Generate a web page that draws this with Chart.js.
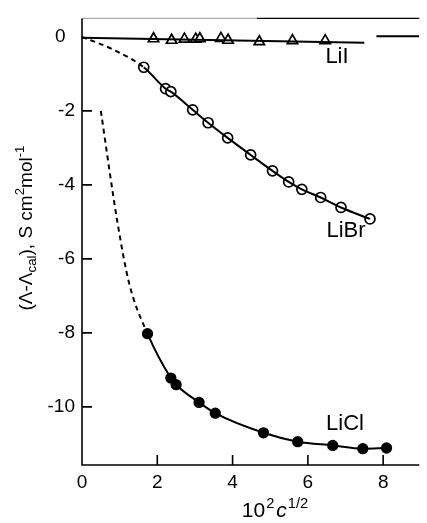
<!DOCTYPE html>
<html lang="en">
<head>
    <meta charset="UTF-8">
    <title>Lambda - Lambda cal</title>
    <style>
        body {
            margin: 0;
            padding: 0;
            background-color: #fff;
        }
        #wrap {
            width: 427px;
            height: 523px;
        }
    </style>
</head>
<body>
    <div id="wrap"><canvas id="chart"></canvas></div>

    <script src="https://cdn.jsdelivr.net/npm/chart.js"></script>
    <script>
        // Datos
        var xTicks = [0, 2, 4, 6, 8];
        var yTicks = [0, -2, -4, -6, -8, -10];

        // LiI (triangulos)
        var liIX = [1.90, 2.38, 2.72, 3.02, 3.13, 3.69, 3.88, 4.71, 5.59, 6.46];
        var liIY = [-0.05, -0.09, -0.06, -0.06, -0.05, -0.04, -0.09, -0.13, -0.10, -0.10];
        var liILineX = [0, 7.5];
        var liILineY = [-0.02, -0.16];
        var stubX = [7.82, 8.96];
        var stubY = [0.02, 0.02];

        // LiBr (circulos abiertos)
        var liBrX = [1.64, 2.22, 2.36, 2.94, 3.35, 3.87, 4.48, 5.06, 5.49, 5.84, 6.34, 6.88, 7.65];
        var liBrY = [-0.82, -1.40, -1.48, -1.97, -2.32, -2.73, -3.19, -3.62, -3.92, -4.12, -4.34, -4.61, -4.92];
        var liBrDashX = [0, 0.8];
        var liBrDashY = [0, -0.33];

        // LiCl (circulos llenos)
        var liClX = [1.74, 2.36, 2.50, 3.11, 3.54, 4.82, 5.73, 6.66, 7.46, 8.09];
        var liClY = [-8.02, -9.22, -9.40, -9.88, -10.17, -10.70, -10.94, -11.04, -11.13, -11.11];
        var liClDashX = [0.50, 0.94, 1.25];
        var liClDashY = [-2.0, -5.0, -6.65];

        var FONT = '"Liberation Sans", Arial, sans-serif';

        function pts(xs, ys) {
            return xs.map(function(x, i) { return {x: x, y: ys[i]}; });
        }

        // curva: primeros tramos (extrapolacion) a trazos, resto continua
        function curve(dashX, dashY, xs, ys) {
            var n = dashX.length;
            return {
                data: pts(dashX.concat(xs), dashY.concat(ys)),
                showLine: true,
                borderColor: '#000',
                borderWidth: 2,
                cubicInterpolationMode: 'monotone',
                segment: {
                    borderDash: function(c) { return c.p1DataIndex <= n ? [5, 4] : []; }
                },
                pointRadius: 0,
                fill: false
            };
        }

        function line(data) {
            return {
                data: data,
                showLine: true,
                borderColor: '#000',
                borderWidth: 2,
                pointRadius: 0,
                fill: false
            };
        }

        function marks(data, style, fillColor, r) {
            return {
                data: data,
                showLine: false,
                pointStyle: style,
                pointRadius: r,
                pointBackgroundColor: fillColor,
                pointBorderColor: '#000',
                pointBorderWidth: 1.7
            };
        }

        // texto con sub/superindices
        function drawRich(ctx, parts, size, x, y, align) {
            var total = 0;
            parts.forEach(function(p) {
                var s = p.small ? size * 0.7 : size;
                ctx.font = (p.italic ? 'italic ' : '') + s + 'px ' + FONT;
                p.w = ctx.measureText(p.t).width + (p.gap || 0);
                total += p.w;
            });
            var cx = align === 'center' ? x - total / 2 : x;
            ctx.textAlign = 'left';
            ctx.textBaseline = 'alphabetic';
            parts.forEach(function(p) {
                var s = p.small ? size * 0.7 : size;
                ctx.font = (p.italic ? 'italic ' : '') + s + 'px ' + FONT;
                var dy = p.sup ? -size * 0.42 : (p.sub ? size * 0.22 : 0);
                ctx.fillText(p.t, cx, y + dy);
                cx += p.w;
            });
        }

        var decor = {
            id: 'decor',
            afterDraw: function(chart) {
                var ctx = chart.ctx;
                var a = chart.chartArea;
                var xs = chart.scales.x, ys = chart.scales.y;
                ctx.save();
                // borde superior (tenue a la izquierda)
                ctx.lineWidth = 1.2;
                ctx.strokeStyle = '#aaa';
                ctx.beginPath();
                ctx.moveTo(a.left, a.top);
                ctx.lineTo(a.left + 175, a.top);
                ctx.stroke();
                ctx.strokeStyle = '#000';
                ctx.beginPath();
                ctx.moveTo(a.left + 175, a.top);
                ctx.lineTo(a.right, a.top);
                ctx.stroke();

                ctx.lineWidth = 1.6;
                ctx.beginPath();
                ctx.moveTo(a.left, a.top);
                ctx.lineTo(a.left, a.bottom);
                ctx.lineTo(a.right, a.bottom);
                // marcas hacia adentro
                xTicks.forEach(function(v) {
                    if (v === 0) return;
                    var px = xs.getPixelForValue(v);
                    ctx.moveTo(px, a.bottom);
                    ctx.lineTo(px, a.bottom - 10);
                });
                yTicks.forEach(function(v) {
                    if (v === 0) return;
                    var py = ys.getPixelForValue(v);
                    ctx.moveTo(a.left, py);
                    ctx.lineTo(a.left + 10, py);
                });
                ctx.stroke();

                ctx.fillStyle = '#000';
                ctx.textAlign = 'center';
                ctx.textBaseline = 'middle';
                ctx.font = '22px ' + FONT;
                ctx.fillText('LiI', 337, 57);
                ctx.fillText('LiBr', 346, 231);
                ctx.fillText('LiCl', 345, 424);

                // titulo eje x
                drawRich(ctx, [
                    {t: '10', gap: 1}, {t: '2', small: true, sup: true, gap: 2},
                    {t: 'c', italic: true, gap: 1}, {t: '1/2', small: true, sup: true}
                ], 21, 275, 517, 'center');

                // titulo eje y
                ctx.translate(25, 228);
                ctx.rotate(-Math.PI / 2);
                drawRich(ctx, [
                    {t: '(\u039B-\u039B'}, {t: 'cal', small: true, sub: true}, {t: '), S cm'},
                    {t: '2', small: true, sup: true}, {t: 'mol'}, {t: '-1', small: true, sup: true}
                ], 19, 0, 7, 'center');
                ctx.restore();
            }
        };

        document.addEventListener('DOMContentLoaded', function() {
            var ctx = document.getElementById('chart').getContext('2d');
            new Chart(ctx, {
                type: 'scatter',
                data: {
                    datasets: [
                        line(pts(liILineX, liILineY)),
                        line(pts(stubX, stubY)),
                        curve(liBrDashX, liBrDashY, liBrX, liBrY),
                        curve(liClDashX, liClDashY, liClX, liClY),
                        marks(pts(liIX, liIY), 'triangle', '#fff', 6),
                        marks(pts(liBrX, liBrY), 'circle', '#fff', 5),
                        marks(pts(liClX, liClY), 'circle', '#000', 4.8)
                    ]
                },
                options: {
                    responsive: true,
                    maintainAspectRatio: false,
                    animation: false,
                    layout: { padding: { top: 11, right: 0, bottom: 0, left: 0 } },
                    plugins: {
                        legend: { display: false },
                        tooltip: { enabled: false }
                    },
                    scales: {
                        x: {
                            type: 'linear',
                            min: 0,
                            max: 8.96,
                            grid: { display: false, drawTicks: false },
                            border: { display: false },
                            afterBuildTicks: function(s) {
                                s.ticks = xTicks.map(function(v) { return {value: v}; });
                            },
                            afterFit: function(s) { s.height = 58; },
                            ticks: {
                                padding: 6,
                                color: '#000',
                                maxRotation: 0,
                                font: { family: FONT, size: 19 },
                                callback: function(v) { return String(v); }
                            }
                        },
                        y: {
                            type: 'linear',
                            min: -11.57,
                            max: 0.5,
                            grid: { display: false, drawTicks: false },
                            border: { display: false },
                            afterBuildTicks: function(s) {
                                s.ticks = yTicks.map(function(v) { return {value: v}; });
                            },
                            afterFit: function(s) { s.width = 82; },
                            ticks: {
                                padding: 7,
                                color: '#000',
                                font: { family: FONT, size: 19 },
                                callback: function(v) { return v === 0 ? '0\u2002' : String(v); }
                            }
                        }
                    }
                },
                plugins: [decor]
            });
        });
    </script>
</body>
</html>
